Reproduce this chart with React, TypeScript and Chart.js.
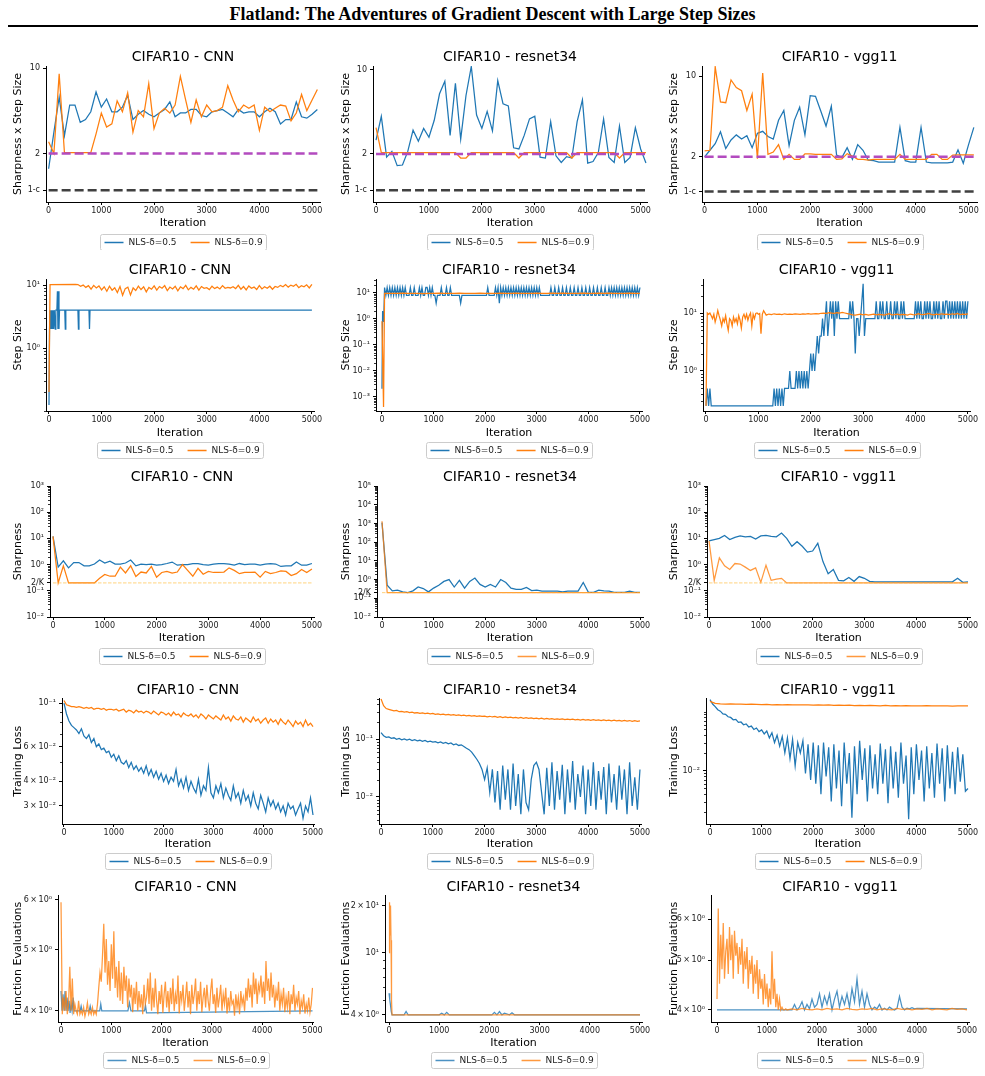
import { useEffect, useRef } from "react";
import { Chart, registerables } from "chart.js";

Chart.register(...registerables);
Chart.defaults.font.family = "'DejaVu Sans', sans-serif";

const steps = (start: number, step: number, count: number): number[] =>
  Array.from({ length: count }, (_, i) => start + i * step);

// ---------- iteration grids ----------
const ITER_R1 = steps(0, 100, 52); // 0 … 5100
const ITER_R3 = steps(0, 100, 51); // 0 … 5000
const ITER_50 = steps(0, 50, 101); // 0 … 5000
const ITER_25 = steps(0, 25, 201); // 0 … 5000
const X_TICKS = [0, 1000, 2000, 3000, 4000, 5000];

// ---------- reference levels ----------
const EOS_LEVEL = 2;
const ONE_MINUS_C = 1;
const TWO_OVER_K = 0.2;

const SERIES_LABELS = ["NLS-δ=0.5", "NLS-δ=0.9"];

// ---------- row 1: sharpness x step size ----------
const SXS_CNN_05 = [1.5, 3.0, 5.8, 2.8, 5.0, 5.0, 3.6, 3.8, 4.4, 6.4, 4.8, 5.6, 4.4, 4.4, 4.8, 6.0, 3.8, 4.2, 4.5, 4.2, 4.0, 4.3, 4.6, 5.3, 4.0, 4.3, 4.3, 4.6, 4.6, 4.1, 4.0, 4.4, 4.5, 4.6, 4.3, 4.0, 4.6, 4.3, 4.4, 4.4, 4.0, 4.4, 4.7, 4.4, 3.5, 3.8, 3.8, 5.3, 4.0, 3.9, 4.2, 4.6];
const SXS_CNN_09 = [2.5, 2.0, 9.0, 2.03, 2.03, 2.03, 2.03, 2.03, 2.03, 2.9, 4.3, 3.3, 3.5, 5.4, 4.4, 6.3, 3.0, 4.5, 4.0, 7.5, 3.2, 4.3, 4.7, 4.3, 5.0, 8.6, 5.5, 3.6, 5.5, 4.0, 5.0, 4.4, 4.5, 4.8, 7.2, 5.5, 4.4, 5.0, 4.7, 5.0, 3.1, 4.8, 4.4, 4.7, 5.0, 4.9, 3.7, 4.3, 6.1, 4.5, 5.5, 6.7];
const SXS_RESNET_05 = [2.6, 4.1, 1.88, 2.1, 1.6, 1.62, 2.1, 3.15, 2.55, 3.25, 2.75, 3.8, 6.3, 8.0, 2.85, 7.7, 2.65, 6.1, 10.6, 4.2, 3.25, 4.5, 3.1, 8.1, 5.2, 5.0, 2.25, 2.2, 2.85, 3.9, 4.1, 1.88, 1.85, 3.7, 1.93, 1.7, 1.9, 1.85, 3.7, 5.6, 1.68, 1.73, 2.05, 3.9, 1.87, 1.7, 3.4, 1.7, 1.87, 3.3, 2.2, 1.68];
const SXS_RESNET_09 = [3.3, 2.05, 2.05, 2.05, 2.05, 2.05, 2.05, 2.05, 2.05, 2.05, 2.05, 2.05, 2.05, 2.05, 2.05, 2.05, 1.85, 1.85, 2.05, 2.05, 2.05, 2.05, 2.05, 2.05, 2.05, 2.05, 2.05, 1.85, 2.05, 2.05, 2.05, 2.05, 2.05, 2.05, 2.05, 2.05, 2.05, 1.85, 2.05, 2.05, 2.05, 2.05, 2.05, 2.05, 2.05, 2.05, 1.85, 2.05, 2.05, 2.05, 2.05, 2.05];
const SXS_VGG_05 = [2.0, 2.28, 2.6, 3.3, 2.36, 2.8, 3.1, 2.85, 3.05, 2.4, 3.2, 3.33, 3.0, 2.85, 4.15, 5.05, 2.5, 4.15, 5.4, 3.1, 6.8, 6.7, 5.0, 3.7, 5.5, 2.07, 1.97, 2.4, 1.9, 2.55, 2.28, 1.87, 1.85, 1.8, 1.8, 1.8, 1.8, 3.6, 1.85, 1.8, 1.8, 3.6, 1.8, 1.77, 1.77, 1.77, 1.77, 1.8, 2.3, 1.76, 2.55, 3.6];
const SXS_VGG_09 = [2.25, 2.28, 12.1, 6.0, 5.9, 9.3, 8.0, 7.5, 5.05, 7.0, 1.93, 10.7, 2.1, 2.2, 2.55, 1.9, 2.1, 1.9, 1.9, 2.12, 2.12, 2.1, 2.1, 2.1, 2.1, 1.9, 1.92, 2.13, 2.03, 1.9, 1.9, 1.87, 1.9, 1.9, 1.9, 1.9, 1.9, 2.1, 1.9, 1.9, 1.9, 1.9, 1.9, 2.1, 2.1, 1.9, 1.9, 2.07, 2.08, 2.08, 2.08, 2.08];

// ---------- row 2: step size ----------
const STEP_CNN_05_X = [0, 10, 20, 30, 40, 50, 60, 70, 80, 90, 100, 110, 120, 130, 150, 160, 170, 180, 190, 200, 300, 310, 320, 550, 560, 570, 760, 770, 780, 5000];
const STEP_CNN_05 = [0.125, 2, 4, 2, 4, 2, 4, 2, 4, 2, 4, 4, 2, 4, 4, 8, 2, 8, 2, 4, 4, 2, 4, 4, 2, 4, 4, 2, 4, 4];
const STEP_CNN_09_HEAD_X = [0, 20, 500];
const STEP_CNN_09_HEAD = [0.2, 10.2, 10.3];
const STEP_CNN_09 = [
  10.2, 9.6, 10.0, 9.2, 9.8, 8.6, 9.9, 9.0, 9.7, 8.4,
  9.4, 8.0, 9.6, 8.3, 9.1, 7.6, 9.5, 6.9, 8.8, 9.3,
  7.0, 9.0, 8.2, 9.6, 8.5, 9.4, 7.8, 9.2, 8.6, 9.7,
  8.3, 9.5, 8.9, 9.8, 8.2, 9.3, 8.7, 9.6, 8.1, 9.4,
  8.8, 9.9, 8.4, 9.2, 8.6, 9.7, 8.3, 9.5, 8.9, 9.1,
  8.5, 9.6, 8.8, 9.3, 8.7, 9.8, 8.9, 9.2, 9.0, 9.4,
  8.8, 9.9, 8.6, 9.5, 8.4, 9.7, 8.9, 9.3, 8.5, 9.8,
  8.7, 9.4, 8.9, 9.6, 8.6, 9.5, 9.2, 9.9, 9.4, 10.2,
  9.3, 10.0, 9.6, 10.3, 9.1, 9.8, 9.4, 10.1, 9.0, 10.3,
];
const STEP_RESNET_05_HEAD_X = [0, 12, 25, 38];
const STEP_RESNET_05_HEAD = [0.002, 2, 0.8, 2];
const STEP_RESNET_05 = [
  16, 8, 16, 8, 16, 8, 16, 8, 16, 8, 16, 8, 16, 8, 16, 8, 16, 8,
  8, 8, 16, 8, 8, 16, 8, 8, 8, 16, 8, 16, 8, 8, 16,
  16, 8, 16, 8, 16, 8,
  8, 4,
  8, 8, 8, 16, 8, 8, 8, 16, 8, 8, 16,
  8, 8, 8, 8, 8, 8, 8, 4, 8, 8, 8, 8, 8, 8, 8, 8, 8, 8, 8, 8, 8, 8, 8, 8, 8, 8, 8,
  8, 16, 8, 8, 8, 8, 8, 16, 8, 16, 4, 16,
  8, 16, 8, 16, 8, 16, 8, 16, 8, 16, 8, 16, 8, 16, 8, 16, 8, 16, 8, 16, 8, 16, 8, 16, 8, 16, 8, 16,
  8, 16, 8, 8, 8, 8, 8, 8, 8, 8,
  16, 8, 8, 16, 8, 8, 16, 8, 8, 16, 8, 8, 16, 8, 8, 16, 8, 8, 16, 8, 8, 16, 8, 8, 16, 8, 8, 16, 8, 8, 16, 8, 8, 16, 8, 8, 16, 8, 8, 16, 8, 8, 16, 8, 8, 16,
  8, 16, 8, 16, 8, 16, 8, 16, 8, 16, 8, 16, 8, 16, 8, 16, 8, 16, 8, 16, 8, 16, 8, 16,
];
const STEP_RESNET_09_HEAD_X = [0, 30, 50];
const STEP_RESNET_09_HEAD = [0.8, 0.0004, 9.5];
const STEP_RESNET_09 = [
  9.4, 9.6, 9.5, 9.7, 9.4, 9.6, 9.5, 9.3, 9.6, 9.5,
  9.7, 9.4, 9.6, 9.5, 9.8, 9.4, 9.6, 9.5, 9.7, 9.5,
  9.6, 9.4, 9.7, 9.5, 9.6, 9.8, 9.5, 9.6, 9.4, 9.7,
  9.5, 9.6, 9.8, 9.5, 9.7, 9.6, 9.4, 9.6, 9.7, 9.5,
  9.6, 9.8, 9.5, 9.7, 9.4, 9.6, 9.5, 9.7, 9.6, 9.5,
];
const STEP_VGG_05 = [
  0.25, 0.5, 0.25, 0.5,
  0.25, 0.25, 0.25, 0.25, 0.25, 0.25, 0.25, 0.25, 0.25, 0.25, 0.25, 0.25, 0.25, 0.25, 0.25, 0.25, 0.25, 0.25, 0.25, 0.25, 0.25, 0.25, 0.25, 0.25,
  0.25, 0.25, 0.25, 0.25, 0.25, 0.25, 0.25, 0.25, 0.25, 0.25, 0.25, 0.25, 0.25, 0.25, 0.25, 0.25, 0.25, 0.25, 0.25, 0.25, 0.25, 0.25, 0.25, 0.25,
  0.5, 0.25, 0.5, 0.25, 0.5, 0.25, 0.5, 0.25,
  0.5, 0.5, 0.5,
  0.5, 1, 0.5, 0.5, 0.5, 0.5, 1, 0.5, 1, 0.5, 1, 0.5, 1, 0.5, 1, 0.5, 1,
  2, 1, 2, 1, 2, 4, 2, 4,
  4, 8, 4, 8, 16, 4,
  8, 16, 8, 16, 4, 16, 8, 16,
  8, 8, 8, 8, 8, 8, 8, 8,
  16, 8, 16,
  8,
  2,
  8, 8, 4, 8,
  16,
  32,
  4,
  8, 8, 8, 8, 8, 8, 8, 8,
  16, 8, 8, 16, 8, 16, 8, 8, 16, 8,
  8, 16, 8, 8, 16, 8, 16, 8, 8, 16, 8, 16, 8, 8,
  8, 8, 8, 8, 8,
  8, 16, 8, 16, 8, 16, 8, 8, 16,
  8, 16, 8, 16, 8, 8, 16, 8, 16, 8, 16, 8, 8, 16, 8, 16,
  16, 8, 16, 8, 16, 8, 16, 8, 16, 8, 16, 8, 16, 8, 16, 8, 16,
];
const STEP_VGG_09_HEAD_X = [0];
const STEP_VGG_09_HEAD = [0.25];
const STEP_VGG_09_EARLY = [
  10, 9.5, 10, 9, 8, 9.5, 7, 8.5, 11, 9,
  7.5, 6, 8, 7, 9, 6.5, 5, 8, 7.5, 6,
  8.5, 7, 8, 6.5, 9, 7.5, 5.5, 8.5, 9.5, 8,
  9.5, 7.5, 9, 10, 6, 9.5, 8, 9.8, 10, 9.5,
  9.8, 4.4, 9.5, 11,
];
const STEP_VGG_09_LATE = [
  9.2, 9.6, 9.4, 9.7, 9.5, 9.6, 9.4, 9.7, 9.5, 9.6,
  9.5, 9.7, 9.6, 9.5, 9.7, 9.6, 9.8, 9.6, 9.7, 9.8,
  9.7, 9.9, 10, 9.9, 10.1, 10, 9.9, 10.1, 10, 10.2,
  10, 9.8, 9.6, 9.3, 9.2, 9.4, 9.6, 9.3, 9.5, 9.2,
  9.4, 9.6, 9.3, 9.5, 9.4, 9.2, 9.5, 9.7, 9.3, 9.4,
  9.6, 9.3, 9.5, 9.4, 9.2, 9.6, 9.4, 9.3, 9.7, 9.5,
  9.4, 9.6, 9.8, 9.5, 9.3, 9.6, 9.4, 9.7, 9.5, 9.6,
  9.4, 9.7, 9.5, 9.8, 9.4, 9.6, 9.5, 9.7,
];

// ---------- row 3: sharpness ----------
const SHARP_CNN_05 = [12, 0.8, 1.4, 0.75, 1.2, 1.2, 0.9, 0.9, 1.05, 1.5, 1.15, 1.35, 1.05, 1.05, 1.15, 1.5, 0.9, 1.05, 1.0, 1.05, 0.95, 1.0, 1.1, 1.25, 0.95, 1.0, 1.0, 1.1, 1.1, 1.0, 0.95, 1.05, 1.1, 1.1, 1.05, 0.95, 1.1, 1.0, 1.05, 1.05, 0.95, 1.05, 1.1, 1.05, 0.85, 0.9, 0.9, 1.25, 0.95, 0.95, 1.1];
const SHARP_CNN_09 = [12, 0.2, 0.9, 0.2, 0.2, 0.2, 0.2, 0.2, 0.2, 0.3, 0.42, 0.36, 0.36, 0.8, 0.48, 0.9, 0.35, 0.52, 0.48, 0.85, 0.33, 0.5, 0.55, 0.47, 0.52, 1.0, 0.6, 0.36, 0.72, 0.43, 0.55, 0.5, 0.5, 0.52, 0.75, 0.6, 0.45, 0.5, 0.5, 0.52, 0.33, 0.55, 0.45, 0.5, 0.58, 0.55, 0.38, 0.45, 0.65, 0.5, 0.68];
const SHARP_RESNET_05 = [1100, 0.5, 0.25, 0.27, 0.22, 0.2, 0.25, 0.4, 0.33, 0.22, 0.35, 0.5, 0.8, 1.0, 0.4, 0.9, 0.35, 0.8, 1.2, 0.55, 0.4, 0.55, 0.4, 1.0, 0.7, 0.35, 0.3, 0.3, 0.38, 0.26, 0.27, 0.24, 0.24, 0.24, 0.24, 0.22, 0.24, 0.24, 0.24, 0.7, 0.21, 0.21, 0.27, 0.25, 0.24, 0.21, 0.21, 0.21, 0.24, 0.21, 0.21];
const SHARP_RESNET_09 = [1300, 0.2, 0.2, 0.2, 0.2, 0.2, 0.2, 0.2, 0.2, 0.2, 0.2, 0.2, 0.2, 0.2, 0.2, 0.2, 0.2, 0.2, 0.2, 0.2, 0.2, 0.2, 0.2, 0.2, 0.2, 0.2, 0.2, 0.2, 0.2, 0.2, 0.2, 0.2, 0.2, 0.2, 0.2, 0.2, 0.2, 0.2, 0.2, 0.2, 0.2, 0.2, 0.2, 0.2, 0.2, 0.2, 0.2, 0.2, 0.2, 0.2, 0.2];
const SHARP_VGG_05 = [8, 9, 10, 13, 9, 11, 12.5, 11.5, 12, 9.5, 12.5, 13, 12, 11.5, 16, 10, 5, 7.5, 5, 3, 3.3, 6.5, 1.3, 0.45, 0.65, 0.25, 0.24, 0.32, 0.23, 0.35, 0.3, 0.23, 0.22, 0.22, 0.22, 0.22, 0.22, 0.22, 0.22, 0.22, 0.22, 0.22, 0.22, 0.22, 0.22, 0.22, 0.22, 0.22, 0.3, 0.21, 0.22];
const SHARP_VGG_09 = [8, 0.25, 1.8, 0.9, 0.65, 1.1, 1.05, 0.8, 0.6, 0.75, 0.21, 0.95, 0.25, 0.28, 0.3, 0.2, 0.2, 0.2, 0.2, 0.2, 0.2, 0.2, 0.2, 0.2, 0.2, 0.2, 0.2, 0.2, 0.2, 0.2, 0.2, 0.2, 0.2, 0.2, 0.2, 0.2, 0.2, 0.2, 0.2, 0.2, 0.2, 0.2, 0.2, 0.2, 0.2, 0.2, 0.2, 0.2, 0.2, 0.2, 0.2];

// ---------- row 4: training loss ----------
const LOSS_CNN_05 = [
  0.100, 0.088, 0.081, 0.077, 0.075, 0.073, 0.070, 0.074, 0.068, 0.066,
  0.069, 0.063, 0.066, 0.060, 0.062, 0.058, 0.059, 0.056, 0.057, 0.053,
  0.055, 0.051, 0.054, 0.050, 0.049, 0.051, 0.047, 0.050, 0.046, 0.048,
  0.045, 0.047, 0.044, 0.048, 0.043, 0.046, 0.042, 0.045, 0.041, 0.044,
  0.040, 0.043, 0.039, 0.042, 0.040, 0.046, 0.038, 0.041, 0.037, 0.042,
  0.036, 0.040, 0.037, 0.035, 0.041, 0.034, 0.038, 0.036, 0.047, 0.035,
  0.033, 0.038, 0.035, 0.039, 0.033, 0.037, 0.034, 0.032, 0.038, 0.033,
  0.035, 0.031, 0.036, 0.032, 0.034, 0.030, 0.035, 0.031, 0.029, 0.034,
  0.031, 0.028, 0.033, 0.030, 0.032, 0.029, 0.031, 0.028, 0.030, 0.027,
  0.031, 0.029, 0.030, 0.027, 0.029, 0.031, 0.026, 0.030, 0.028, 0.033,
  0.027,
];
const LOSS_CNN_09 = [
  0.103, 0.098, 0.097, 0.096, 0.096, 0.095, 0.096, 0.095, 0.094, 0.095,
  0.094, 0.095, 0.093, 0.094, 0.094, 0.093, 0.094, 0.092, 0.093, 0.093,
  0.092, 0.093, 0.091, 0.092, 0.093, 0.090, 0.092, 0.091, 0.089, 0.092,
  0.090, 0.091, 0.089, 0.091, 0.090, 0.088, 0.091, 0.089, 0.087, 0.090,
  0.089, 0.087, 0.089, 0.086, 0.090, 0.087, 0.088, 0.085, 0.089, 0.087,
  0.086, 0.088, 0.085, 0.087, 0.084, 0.088, 0.086, 0.083, 0.087, 0.085,
  0.083, 0.086, 0.084, 0.082, 0.087, 0.083, 0.085, 0.081, 0.086, 0.083,
  0.082, 0.085, 0.080, 0.084, 0.082, 0.080, 0.085, 0.081, 0.083, 0.079,
  0.082, 0.084, 0.079, 0.083, 0.080, 0.082, 0.078, 0.083, 0.080, 0.078,
  0.082, 0.079, 0.076, 0.081, 0.078, 0.080, 0.076, 0.082, 0.077, 0.079,
  0.076,
];
const LOSS_RESNET_05 = [
  0.13, 0.115, 0.108, 0.11, 0.104, 0.106, 0.1, 0.103, 0.098, 0.101,
  0.097, 0.1, 0.095, 0.098, 0.094, 0.096, 0.092, 0.095, 0.09, 0.093,
  0.089, 0.091, 0.087, 0.09, 0.085, 0.088, 0.083, 0.086, 0.08, 0.083,
  0.078, 0.08, 0.075, 0.07, 0.066, 0.06, 0.052, 0.045,
  0.038, 0.03, 0.02, 0.032, 0.012, 0.03, 0.008, 0.028, 0.006, 0.035,
  0.009, 0.03, 0.006, 0.038, 0.007, 0.025, 0.005, 0.03, 0.008, 0.006,
  0.02, 0.035, 0.04, 0.03, 0.012, 0.005, 0.032, 0.007, 0.04, 0.006,
  0.028, 0.009, 0.036, 0.005, 0.03, 0.008, 0.042, 0.006, 0.025, 0.01,
  0.035, 0.005, 0.03, 0.007, 0.04, 0.006, 0.028, 0.009, 0.033, 0.005,
  0.038, 0.008, 0.025, 0.006, 0.035, 0.009, 0.03, 0.005, 0.04, 0.007,
  0.022, 0.006, 0.03,
];
const LOSS_RESNET_09 = [
  0.5, 0.38, 0.34, 0.33, 0.32, 0.31, 0.315, 0.3, 0.305, 0.295,
  0.3, 0.29, 0.295, 0.285, 0.29, 0.28, 0.287, 0.278, 0.282, 0.275,
  0.28, 0.27, 0.275, 0.268, 0.272, 0.265, 0.27, 0.262, 0.267, 0.26,
  0.264, 0.257, 0.262, 0.255, 0.26, 0.252, 0.257, 0.25, 0.255, 0.248,
  0.252, 0.245, 0.25, 0.243, 0.248, 0.24, 0.246, 0.238, 0.244, 0.237,
  0.242, 0.235, 0.24, 0.233, 0.238, 0.231, 0.236, 0.229, 0.234, 0.228,
  0.232, 0.226, 0.231, 0.224, 0.229, 0.223, 0.228, 0.221, 0.226, 0.22,
  0.225, 0.219, 0.224, 0.218, 0.223, 0.216, 0.221, 0.215, 0.22, 0.214,
  0.219, 0.213, 0.218, 0.212, 0.217, 0.211, 0.216, 0.21, 0.215, 0.209,
  0.214, 0.208, 0.213, 0.207, 0.212, 0.206, 0.211, 0.205, 0.21, 0.204,
  0.208,
];
const LOSS_VGG_05 = [
  0.16, 0.135, 0.122, 0.108, 0.102, 0.092, 0.09, 0.082, 0.08, 0.073,
  0.074, 0.066, 0.067, 0.06, 0.062, 0.055, 0.057, 0.05, 0.053, 0.046,
  0.049,
  0.042, 0.047, 0.036, 0.044, 0.03, 0.04, 0.026, 0.038, 0.02, 0.036,
  0.016, 0.034, 0.012, 0.03, 0.02, 0.032, 0.009, 0.028, 0.007, 0.03,
  0.006, 0.027, 0.004, 0.03, 0.008, 0.025, 0.003, 0.028, 0.005, 0.022,
  0.0025, 0.03, 0.006, 0.02, 0.0016, 0.026, 0.004, 0.032, 0.007, 0.024,
  0.003, 0.027, 0.005, 0.019, 0.004, 0.029, 0.006, 0.023, 0.0028, 0.026,
  0.005, 0.021, 0.0035, 0.03, 0.006, 0.018, 0.0015, 0.025, 0.004, 0.028,
  0.007, 0.022, 0.003, 0.026, 0.005, 0.02, 0.0035, 0.029, 0.006, 0.024,
  0.003, 0.027, 0.005, 0.021, 0.004, 0.025, 0.0065, 0.019, 0.0045, 0.005,
];
const LOSS_VGG_09 = [
  0.15, 0.138, 0.136, 0.135, 0.136, 0.134, 0.135, 0.133, 0.134, 0.133,
  0.132, 0.133, 0.131, 0.132, 0.131, 0.132, 0.13, 0.131, 0.13, 0.131,
  0.129, 0.13, 0.129, 0.13, 0.128, 0.129, 0.128, 0.129, 0.127, 0.128,
  0.127, 0.128, 0.127, 0.126, 0.128, 0.126, 0.127, 0.126, 0.127, 0.125,
  0.126, 0.125, 0.127, 0.125, 0.126, 0.125, 0.126, 0.124, 0.126, 0.125,
  0.125,
];

// ---------- row 5: function evaluations ----------
const FEVAL_CNN_05_X = [0, 20, 40, 60, 80, 100, 120, 140, 160, 180, 200, 220, 240, 260, 300, 380, 400, 420, 560, 580, 600, 770, 790, 810, 1330, 1360, 1390, 1660, 1680, 1700, 5000];
const FEVAL_CNN_05 = [4.3, 4.0, 4.25, 4.0, 4.3, 4.0, 4.2, 4.0, 4.15, 3.97, 4.1, 4.0, 4.2, 4.0, 4.0, 4.0, 4.07, 4.0, 4.0, 4.07, 4.0, 4.0, 4.1, 4.0, 4.0, 4.12, 4.0, 4.0, 4.08, 3.97, 4.0];
const FEVAL_CNN_09 = [
  5.95, 3.95, 4.2, 4.0, 4.3, 3.95, 4.1, 4.7, 4.0, 4.5, 3.95, 4.1, 4.0, 3.95, 4.15, 3.95, 4.0, 3.95, 4.05, 3.92, 4.0, 4.12, 3.95, 4.0, 3.95, 4.05, 3.95, 4.0, 3.95,
  4.1, 4.35, 4.6, 4.45, 4.9, 5.5, 4.6, 5.2, 4.4, 4.8, 4.3, 5.1, 4.5, 5.35, 4.35, 4.7,
  4.2, 4.8, 4.15, 4.6, 4.1, 4.7, 4.3, 4.55, 4.05, 4.5, 4.2, 4.4, 3.98, 4.35, 4.1, 4.45, 4.0, 4.3, 4.05, 4.25, 3.95, 4.4, 4.1, 4.2,
  4.5, 4.1, 4.6, 4.0, 4.35, 4.05, 4.5, 4.15, 3.95, 4.3, 4.1, 4.4, 3.97, 4.25, 4.45, 4.05, 4.3, 3.98, 4.35, 4.1,
  4.5, 4.0, 4.25, 4.1, 4.55, 3.96, 4.3, 4.15, 4.4, 4.0, 4.2, 4.45, 4.05, 4.3, 3.95, 4.4, 4.1, 4.25, 4.5, 4.0,
  4.3, 4.1, 4.45, 3.98, 4.2, 4.35, 4.05, 4.4, 4.15, 4.0, 4.3, 4.5, 4.1, 4.25, 3.97, 4.35, 4.05, 4.2, 4.4, 4.0,
  4.25, 4.1, 4.35, 3.96, 4.2, 4.0, 4.3, 4.1, 4.15, 3.93, 4.25, 4.05, 4.2, 3.95, 4.3, 4.1, 4.2, 4.0, 4.35, 4.15,
  4.5, 4.2, 4.4, 4.05, 4.6, 4.25, 4.5, 4.1, 4.4, 4.3, 4.55, 4.2, 4.45, 4.1, 4.8, 4.3, 4.5, 4.15, 4.6, 4.2,
  4.4, 4.05, 4.3, 4.15, 4.45, 4.0, 4.25, 4.1, 4.35, 3.98, 4.2, 4.05, 4.3, 3.95, 4.25, 4.1, 4.4, 4.0, 4.2, 4.1,
  4.3, 3.95, 4.15, 4.05, 4.25, 3.96, 4.1, 4.0, 4.2, 3.98, 4.1, 4.35,
];
const FEVAL_RESNET_05_X = [0, 15, 30, 45, 60, 100, 300, 340, 380, 1000, 1050, 1100, 1150, 1200, 2050, 2100, 2150, 2200, 2250, 2300, 2400, 2450, 2500, 5000];
const FEVAL_RESNET_05 = [5.5, 5.0, 4.6, 4.2, 4.0, 4.0, 4.0, 4.2, 4.0, 4.0, 4.1, 4.0, 4.15, 4.0, 4.0, 4.15, 4.0, 4.2, 4.0, 4.1, 4.0, 4.12, 4.0, 4.0];
const FEVAL_RESNET_09_X = [0, 10, 20, 30, 40, 50, 60, 5000];
const FEVAL_RESNET_09 = [10, 21, 13, 20, 12, 5, 4, 4];
const FEVAL_VGG_05_HEAD_X = [0, 1500];
const FEVAL_VGG_05_HEAD = [4.0, 4.0];
const FEVAL_VGG_05 = [
  4.1, 4.0, 4.05, 4.15, 4.0, 4.1, 4.02, 4.2, 4.05, 4.1,
  4.3, 4.05, 4.25, 4.1, 4.3, 4.0, 4.2, 4.35, 4.05, 4.25,
  4.1, 4.3, 4.05, 4.4, 4.15, 4.6, 4.1, 4.35, 4.05, 4.3,
  4.1, 4.0, 4.05, 4.02, 4.1, 4.0, 4.03, 4.0, 4.05, 4.02,
  4.0, 4.03, 4.25, 4.05, 4.0, 4.03, 4.02, 4.04, 4.02, 4.03,
];
const FEVAL_VGG_05_TAIL_X = [5000];
const FEVAL_VGG_05_TAIL = [4.02];
const FEVAL_VGG_09_EARLY = [
  4.2, 6.3, 4.5, 5.6, 4.8, 5.9, 4.6, 5.2, 5.5, 4.7,
  5.8, 5.0, 5.6, 4.6, 5.7, 5.1, 5.4, 4.7, 5.3, 4.9,
  5.5, 4.5, 5.2, 4.8, 5.3, 4.4, 5.0, 4.7, 5.1, 4.3,
  4.9, 4.5, 5.0, 4.2, 4.8, 4.4, 4.6, 4.1, 4.7, 4.2,
  4.5, 4.05, 4.4, 4.1, 5.2, 4.2, 4.6, 4.05, 4.3, 4.0,
  4.2, 4.0, 4.05, 4.0, 4.0, 4.02, 4.0,
];
const FEVAL_VGG_09_LATE = [4.02, 4.0, 4.03, 4.01, 4.0, 4.02, 4.0, 4.03, 4.01, 4.02, 4.0, 4.03, 4.01, 4.0, 4.02, 4.01, 4.03, 4.0, 4.02, 4.01, 4.0, 4.03, 4.01, 4.02, 4.0, 4.02, 4.01, 4.03, 4.0, 4.02, 4.01, 4.0, 4.03, 4.01, 4.02, 4.0];

// ---------- styling ----------
const BLUE = "#1f77b4";
const ORANGE = "#ff7f0e";
const BLUE_SOFT = "rgba(31,119,180,0.8)";
const ORANGE_SOFT = "rgba(255,127,14,0.8)";
const PURPLE = "#b34bbf";
const DARK = "#404040";
const PALE_ORANGE = "rgba(255,180,40,0.6)";
const TS = "\u2009"; // thin space used in "a × 10ⁿ" tick labels

type Line = { x: number[]; y: number[]; color: string };
type RefLine = { y: number; x0: number; x1: number; color: string; width: number; dash: number[] };
type Spec = {
  title: string;
  yTitle: string;
  yMin: number;
  yMax: number;
  yTicks: number[];
  yLabels: string[];
  minor: boolean;
  lines: Line[];
  refs: RefLine[];
};

const pair = (x05: number[], y05: number[], x09: number[], y09: number[], c05 = BLUE, c09 = ORANGE): Line[] => [
  { x: x05, y: y05, color: c05 },
  { x: x09, y: y09, color: c09 },
];

const sci = (m: number, exp: string) => `${m}${TS}×${TS}10${exp}`;

const R1_REFS: RefLine[] = [
  { y: EOS_LEVEL, x0: 0, x1: 5100, color: PURPLE, width: 2.5, dash: [9, 4] },
  { y: ONE_MINUS_C, x0: 0, x1: 5100, color: DARK, width: 2.5, dash: [9, 4] },
];
const R3_REFS: RefLine[] = [{ y: TWO_OVER_K, x0: 0, x1: 5000, color: PALE_ORANGE, width: 1, dash: [3.5, 1.5] }];

const R1_TICKS = [ONE_MINUS_C, EOS_LEVEL, 10];
const R1_LABELS = ["1-c", "2", "10"];
const R3_TICKS = [0.01, 0.1, TWO_OVER_K, 1, 10, 100, 1000];
const R3_LABELS = ["10⁻²", "10⁻¹", "2/K", "10⁰", "10¹", "10²", "10³"];
const FE_TICKS = [4, 5, 6];
const FE_LABELS = [sci(4, "⁰"), sci(5, "⁰"), sci(6, "⁰")];

const TITLES = ["CIFAR10 - CNN", "CIFAR10 - resnet34", "CIFAR10 - vgg11"];

const SPECS: Spec[][] = [
  [
    { title: TITLES[0], yTitle: "Sharpness x Step Size", yMin: 0.8, yMax: 10.45, yTicks: R1_TICKS, yLabels: R1_LABELS, minor: false, lines: pair(ITER_R1, SXS_CNN_05, ITER_R1, SXS_CNN_09), refs: R1_REFS },
    { title: TITLES[1], yTitle: "Sharpness x Step Size", yMin: 0.8, yMax: 10.7, yTicks: R1_TICKS, yLabels: R1_LABELS, minor: false, lines: pair(ITER_R1, SXS_RESNET_05, ITER_R1, SXS_RESNET_09), refs: R1_REFS },
    { title: TITLES[2], yTitle: "Sharpness x Step Size", yMin: 0.81, yMax: 12.3, yTicks: R1_TICKS, yLabels: R1_LABELS, minor: false, lines: pair(ITER_R1, SXS_VGG_05, ITER_R1, SXS_VGG_09), refs: R1_REFS },
  ],
  [
    {
      title: TITLES[0], yTitle: "Step Size", yMin: 0.1, yMax: 12.5, yTicks: [1, 10], yLabels: ["10⁰", "10¹"], minor: true,
      lines: pair(STEP_CNN_05_X, STEP_CNN_05, [...STEP_CNN_09_HEAD_X, ...steps(550, 50, 90)], [...STEP_CNN_09_HEAD, ...STEP_CNN_09]),
      refs: [],
    },
    {
      title: TITLES[1], yTitle: "Step Size", yMin: 2.8e-4, yMax: 34, yTicks: [0.001, 0.01, 0.1, 1, 10], yLabels: ["10⁻³", "10⁻²", "10⁻¹", "10⁰", "10¹"], minor: true,
      lines: pair(
        [...STEP_RESNET_05_HEAD_X, ...steps(50, 25, 199)], [...STEP_RESNET_05_HEAD, ...STEP_RESNET_05],
        [...STEP_RESNET_09_HEAD_X, ...steps(100, 100, 50)], [...STEP_RESNET_09_HEAD, ...STEP_RESNET_09],
      ),
      refs: [],
    },
    {
      title: TITLES[2], yTitle: "Step Size", yMin: 0.204, yMax: 38.6, yTicks: [1, 10], yLabels: ["10⁰", "10¹"], minor: true,
      lines: pair(
        ITER_25, STEP_VGG_05,
        [...STEP_VGG_09_HEAD_X, ...steps(25, 25, 44), ...steps(1150, 50, 78)], [...STEP_VGG_09_HEAD, ...STEP_VGG_09_EARLY, ...STEP_VGG_09_LATE],
      ),
      refs: [],
    },
  ],
  [
    { title: TITLES[0], yTitle: "Sharpness", yMin: 0.01, yMax: 1000, yTicks: R3_TICKS, yLabels: R3_LABELS, minor: true, lines: pair(ITER_R3, SHARP_CNN_05, ITER_R3, SHARP_CNN_09), refs: R3_REFS },
    {
      title: TITLES[1], yTitle: "Sharpness", yMin: 0.01, yMax: 1e5, yTicks: [...R3_TICKS, 1e4, 1e5], yLabels: [...R3_LABELS, "10⁴", "10⁵"], minor: true,
      lines: pair(ITER_R3, SHARP_RESNET_05, ITER_R3, SHARP_RESNET_09, BLUE, ORANGE_SOFT), refs: R3_REFS,
    },
    { title: TITLES[2], yTitle: "Sharpness", yMin: 0.01, yMax: 1000, yTicks: R3_TICKS, yLabels: R3_LABELS, minor: true, lines: pair(ITER_R3, SHARP_VGG_05, ITER_R3, SHARP_VGG_09, BLUE, ORANGE_SOFT), refs: R3_REFS },
  ],
  [
    { title: TITLES[0], yTitle: "Training Loss", yMin: 0.0243, yMax: 0.1056, yTicks: [0.03, 0.04, 0.06, 0.1], yLabels: [sci(3, "⁻²"), sci(4, "⁻²"), sci(6, "⁻²"), "10⁻¹"], minor: true, lines: pair(ITER_50, LOSS_CNN_05, ITER_50, LOSS_CNN_09), refs: [] },
    { title: TITLES[1], yTitle: "Training Loss", yMin: 0.0034, yMax: 0.51, yTicks: [0.01, 0.1], yLabels: ["10⁻²", "10⁻¹"], minor: true, lines: pair(ITER_50, LOSS_RESNET_05, ITER_50, LOSS_RESNET_09), refs: [] },
    { title: TITLES[2], yTitle: "Training Loss", yMin: 0.00125, yMax: 0.168, yTicks: [0.01], yLabels: ["10⁻²"], minor: true, lines: pair(ITER_50, LOSS_VGG_05, ITER_R3, LOSS_VGG_09), refs: [] },
  ],
  [
    {
      title: TITLES[0], yTitle: "Function Evaluations", yMin: 3.84, yMax: 6.1, yTicks: FE_TICKS, yLabels: FE_LABELS, minor: true,
      lines: pair(FEVAL_CNN_05_X, FEVAL_CNN_05, ITER_25, FEVAL_CNN_09, BLUE_SOFT, ORANGE_SOFT), refs: [],
    },
    {
      title: TITLES[1], yTitle: "Function Evaluations", yMin: 3.6, yMax: 23.2, yTicks: [4, 10, 20], yLabels: [sci(4, "⁰"), "10¹", sci(2, "¹")], minor: true,
      lines: pair(FEVAL_RESNET_05_X, FEVAL_RESNET_05, FEVAL_RESNET_09_X, FEVAL_RESNET_09, BLUE_SOFT, ORANGE_SOFT), refs: [],
    },
    {
      title: TITLES[2], yTitle: "Function Evaluations", yMin: 3.79, yMax: 6.68, yTicks: FE_TICKS, yLabels: FE_LABELS, minor: true,
      lines: pair(
        [...FEVAL_VGG_05_HEAD_X, ...steps(1550, 50, 50), ...FEVAL_VGG_05_TAIL_X], [...FEVAL_VGG_05_HEAD, ...FEVAL_VGG_05, ...FEVAL_VGG_05_TAIL],
        [...steps(0, 25, 57), ...steps(1500, 100, 36)], [...FEVAL_VGG_09_EARLY, ...FEVAL_VGG_09_LATE],
        BLUE_SOFT, ORANGE_SOFT,
      ),
      refs: [],
    },
  ],
];

// ---------- layout ----------
const COL_LEFT = [0, 328, 656];
const ROW_GEOM = [
  { title: 57, top: 66, bottom: 202, xGap: 21, legendGap: 40 },
  { title: 270, top: 279, bottom: 411, xGap: 22, legendGap: 38.5 },
  { title: 477, top: 486, bottom: 617, xGap: 21, legendGap: 39 },
  { title: 690, top: 698, bottom: 824, xGap: 20, legendGap: 36.5 },
  { title: 887, top: 895, bottom: 1022, xGap: 21, legendGap: 37.5 },
];
// [plot left, plot right, x min, x max]
const PANEL_X = [
  [[46, 320, -50, 5150], [373, 647, -57, 5120], [702, 977, -50, 5160]],
  [[46, 314, -57, 5040], [376, 642, -116, 5040], [703, 970, -57, 5040]],
  [[50, 314, -58, 5040], [377, 643, -97, 5058], [707, 970, -39, 5039]],
  [[62, 314, -40, 5020], [379, 641, -39, 5020], [706, 970, -78, 5039]],
  [[58, 313, -60, 5010], [385, 642, -80, 5040], [711, 969, -120, 5040]],
];
const RIGHT_PAD = 14;
const X_AXIS_H = 28;
const BOTTOM_PAD = 20;
const TITLE_LH = 14 * 1.2;
const AXIS_LH = 11 * 1.2;

function frameOf(r: number, c: number) {
  const g = ROW_GEOM[r];
  const [pl, pr, xMin, xMax] = PANEL_X[r][c];
  const left = COL_LEFT[c];
  const top = Math.floor(g.title - TITLE_LH / 2);
  const titlePadTop = g.title - TITLE_LH / 2 - top;
  const titlePadBottom = Math.max(0, g.top - g.title - TITLE_LH / 2);
  return {
    left,
    top,
    width: pr + RIGHT_PAD - left,
    height: g.bottom + X_AXIS_H + BOTTOM_PAD - top,
    titlePadTop,
    titlePadBottom,
    yWidth: pl - left,
    xMin,
    xMax,
    xTitlePad: X_AXIS_H - AXIS_LH / 2 - g.xGap,
    legendGap: g.legendGap,
  };
}

function minorValues(min: number, max: number, majors: number[]): number[] {
  const out: number[] = [];
  for (let e = Math.floor(Math.log10(min)); e <= Math.ceil(Math.log10(max)); e++) {
    for (let k = 1; k <= 9; k++) {
      const v = k * Math.pow(10, e);
      if (v >= min && v <= max && !majors.some((m) => Math.abs(m - v) / v < 1e-6)) out.push(v);
    }
  }
  return out;
}

function boxLegend(items: { label: string; color: string }[], gap: number) {
  return {
    id: "boxLegend",
    afterDraw(chart: Chart) {
      const { ctx, chartArea } = chart;
      ctx.save();
      ctx.font = "9px 'DejaVu Sans', sans-serif";
      const handle = 19, textGap = 5, colGap = 14, padX = 4, boxH = 16;
      const widths = items.map((it) => ctx.measureText(it.label).width);
      const inner = widths.reduce((s, w) => s + handle + textGap + w, 0) + colGap * (items.length - 1);
      const boxW = Math.round(inner + 2 * padX);
      const cx = (chartArea.left + chartArea.right) / 2;
      const cy = Math.round(chartArea.bottom + gap);
      const x0 = Math.round(cx - boxW / 2) + 0.5;
      const y0 = cy - boxH / 2 + 0.5;
      ctx.beginPath();
      if ((ctx as any).roundRect) (ctx as any).roundRect(x0, y0, boxW, boxH, 2);
      else ctx.rect(x0, y0, boxW, boxH);
      ctx.fillStyle = "rgba(255,255,255,0.8)";
      ctx.fill();
      ctx.strokeStyle = "#cccccc";
      ctx.lineWidth = 1;
      ctx.stroke();
      let x = x0 + padX;
      ctx.textBaseline = "middle";
      ctx.textAlign = "left";
      items.forEach((it, i) => {
        ctx.beginPath();
        ctx.moveTo(x, cy + 0.5);
        ctx.lineTo(x + handle, cy + 0.5);
        ctx.strokeStyle = it.color;
        ctx.lineWidth = 1.5;
        ctx.stroke();
        ctx.fillStyle = "#222222";
        ctx.fillText(it.label, x + handle + textGap, cy + 1);
        x += handle + textGap + widths[i] + colGap;
      });
      ctx.restore();
    },
  };
}

function minorTickMarks(values: number[]) {
  return {
    id: "minorTickMarks",
    afterDraw(chart: Chart) {
      const { ctx, chartArea } = chart;
      const s = chart.scales.y;
      ctx.save();
      ctx.strokeStyle = "#000000";
      ctx.lineWidth = 0.8;
      values.forEach((v) => {
        const y = Math.round(s.getPixelForValue(v)) + 0.5;
        ctx.beginPath();
        ctx.moveTo(chartArea.left, y);
        ctx.lineTo(chartArea.left - 2, y);
        ctx.stroke();
      });
      ctx.restore();
    },
  };
}

function buildConfig(spec: Spec, r: number, c: number): any {
  const f = frameOf(r, c);
  const datasets: any[] = [
    ...spec.lines.map((l, i) => ({
      data: l.x.map((x, j) => ({ x, y: l.y[j] })),
      borderColor: l.color,
      borderWidth: 1.25,
      pointRadius: 0,
      order: spec.lines.length - i,
    })),
    ...spec.refs.map((ref) => ({
      data: [{ x: ref.x0, y: ref.y }, { x: ref.x1, y: ref.y }],
      borderColor: ref.color,
      borderWidth: ref.width,
      borderDash: ref.dash,
      pointRadius: 0,
      order: 0,
    })),
  ];
  const gridStyle = { display: true, drawOnChartArea: false, drawTicks: true, tickLength: 3, color: "#000000", tickColor: "#000000", lineWidth: 1 };
  const border = { display: true, color: "#000000", width: 1 };
  const minor = spec.minor ? minorValues(spec.yMin, spec.yMax, spec.yTicks) : [];
  return {
    type: "line",
    data: { datasets },
    plugins: [boxLegend(spec.lines.map((l, i) => ({ label: SERIES_LABELS[i], color: l.color })), f.legendGap), minorTickMarks(minor)],
    options: {
      animation: false,
      responsive: false,
      devicePixelRatio: 1,
      events: [],
      layout: { padding: { left: 0, right: RIGHT_PAD, top: 0, bottom: BOTTOM_PAD } },
      plugins: {
        legend: { display: false },
        tooltip: { enabled: false },
        title: {
          display: true,
          text: spec.title,
          fullSize: false,
          color: "#000000",
          font: { size: 14, weight: "normal" },
          padding: { top: f.titlePadTop, bottom: f.titlePadBottom },
        },
      },
      scales: {
        x: {
          type: "linear",
          bounds: "data",
          min: f.xMin,
          max: f.xMax,
          afterBuildTicks: (s: any) => {
            s.ticks = X_TICKS.map((v) => ({ value: v }));
          },
          afterFit: (s: any) => {
            s.height = X_AXIS_H;
          },
          ticks: { font: { size: 8 }, color: "#1a1a1a", padding: 1.5, maxRotation: 0, autoSkip: false, callback: (v: number) => String(v) },
          grid: gridStyle,
          border,
          title: { display: true, text: "Iteration", color: "#000000", font: { size: 11 }, padding: { top: 0, bottom: f.xTitlePad } },
        },
        y: {
          type: "logarithmic",
          bounds: "data",
          min: spec.yMin,
          max: spec.yMax,
          afterBuildTicks: (s: any) => {
            s.ticks = spec.yTicks.map((v) => ({ value: v }));
          },
          afterFit: (s: any) => {
            s.width = f.yWidth;
          },
          ticks: { font: { size: 8 }, color: "#1a1a1a", padding: 3, autoSkip: false, callback: (_v: number, i: number) => spec.yLabels[i] },
          grid: gridStyle,
          border,
          title: { display: true, text: spec.yTitle, color: "#000000", font: { size: 11 }, padding: { top: 18 - AXIS_LH / 2, bottom: 0 } },
        },
      },
    },
  };
}

function Panel({ spec, r, c }: { spec: Spec; r: number; c: number }) {
  const ref = useRef<HTMLCanvasElement>(null);
  const f = frameOf(r, c);
  useEffect(() => {
    if (!ref.current) return;
    const chart = new Chart(ref.current, buildConfig(spec, r, c));
    return () => chart.destroy();
  }, [spec, r, c]);
  return (
    <canvas
      ref={ref}
      width={f.width}
      height={f.height}
      style={{ position: "absolute", left: f.left, top: f.top, width: f.width, height: f.height }}
    />
  );
}

export default function App() {
  return (
    <div style={{ position: "absolute", left: 0, top: 0, width: 985, height: 1076, overflow: "hidden", background: "#ffffff" }}>
      <div
        style={{
          position: "absolute",
          left: 0,
          top: 3,
          width: 985,
          textAlign: "center",
          fontFamily: "'Liberation Serif', 'Times New Roman', serif",
          fontWeight: "bold",
          fontSize: 18,
          lineHeight: "22px",
          color: "#000",
        }}
      >
        Flatland: The Adventures of Gradient Descent with Large Step Sizes
      </div>
      <div style={{ position: "absolute", left: 8, top: 25, width: 970, height: 2, background: "#000" }} />
      {SPECS.map((row, r) => row.map((spec, c) => <Panel key={`${r}-${c}`} spec={spec} r={r} c={c} />))}
    </div>
  );
}
